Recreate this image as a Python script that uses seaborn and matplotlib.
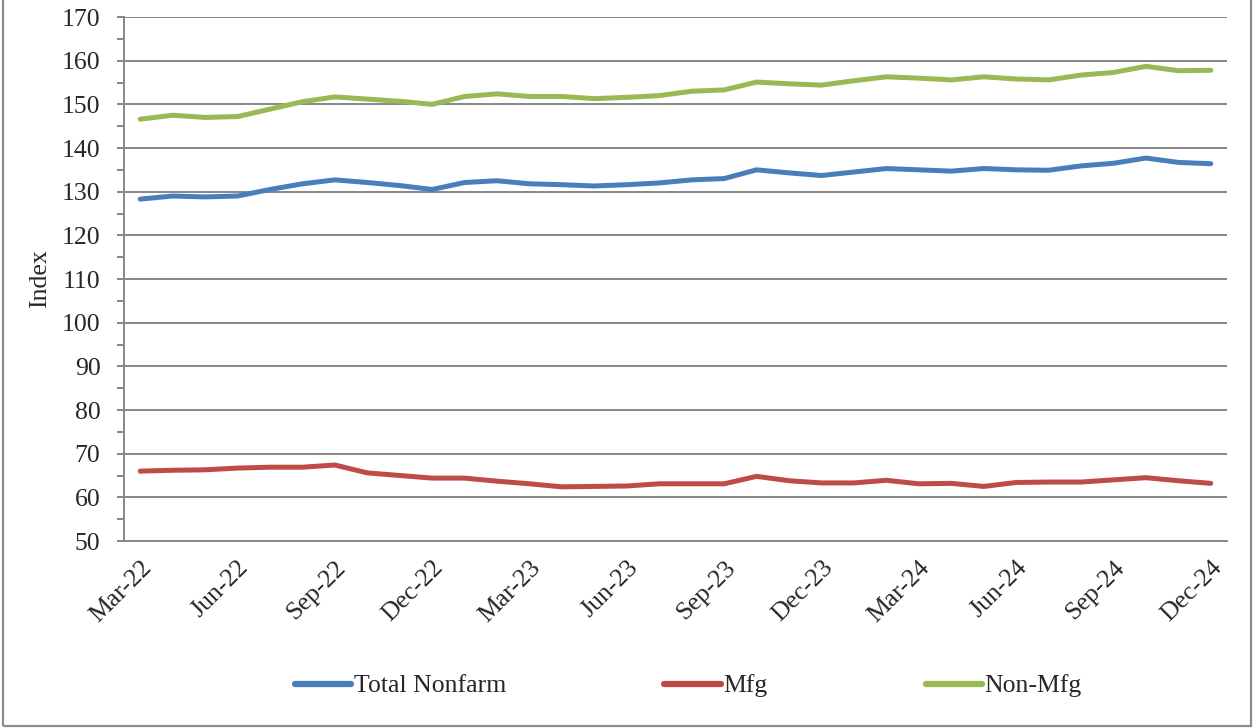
import numpy as np
import pandas as pd
import matplotlib
matplotlib.use("Agg")
import matplotlib.pyplot as plt
import seaborn as sns
from matplotlib.lines import Line2D

months = pd.date_range("2022-03-01", "2024-12-01", freq="MS")
month_labels = [d.strftime("%b-%y") for d in months]

total_nonfarm = [128.3, 129.0, 128.8, 129.0, 130.5, 131.8, 132.7, 132.1, 131.4, 130.5,
                 132.1, 132.5, 131.8, 131.6, 131.3, 131.6, 132.0, 132.7, 133.0, 135.0,
                 134.3, 133.7, 134.5, 135.3, 135.0, 134.7, 135.3, 135.0, 134.9, 135.9,
                 136.5, 137.7, 136.7, 136.4]
mfg = [66.0, 66.2, 66.3, 66.7, 66.9, 66.9, 67.4, 65.6, 65.0, 64.4,
       64.4, 63.7, 63.1, 62.4, 62.5, 62.6, 63.1, 63.1, 63.1, 64.8,
       63.8, 63.3, 63.3, 63.9, 63.1, 63.2, 62.5, 63.4, 63.5, 63.5,
       64.0, 64.5, 63.8, 63.2]
non_mfg = [146.6, 147.5, 147.0, 147.2, 148.9, 150.6, 151.7, 151.2, 150.7, 150.0,
           151.8, 152.4, 151.8, 151.8, 151.3, 151.6, 152.0, 153.0, 153.3, 155.1,
           154.7, 154.4, 155.4, 156.3, 156.0, 155.6, 156.3, 155.8, 155.6, 156.7,
           157.3, 158.7, 157.7, 157.8]

series_names = ["Total Nonfarm", "Mfg", "Non-Mfg"]
colors = ["#4A7EBB", "#BE4B48", "#98B954"]

df = pd.DataFrame({
    "idx": list(range(len(months))) * 3,
    "value": total_nonfarm + mfg + non_mfg,
    "series": sum([[n] * len(months) for n in series_names], []),
})

sns.set_style("white")
plt.rcParams["font.family"] = ["Liberation Serif", "DejaVu Serif"]
plt.rcParams["font.size"] = 18.5
FS = 18.5

fig = plt.figure(figsize=(12.54, 7.28), dpi=100)
ax = fig.add_axes([124 / 1254, 1 - 541 / 728, (1227 - 124) / 1254, (541 - 17) / 728])

sns.lineplot(data=df, x="idx", y="value", hue="series", hue_order=series_names,
             palette=colors, linewidth=3.6, ax=ax, legend=False,
             solid_capstyle="round", solid_joinstyle="round")

grid_c = "#878787"
ax.set_xlim(-0.5, len(months) - 0.5)
ax.set_ylim(50, 170)
ax.set_yticks(np.arange(50, 171, 10))
ax.set_yticks(np.arange(55, 170, 10), minor=True)
ax.yaxis.grid(True, which="major", color=grid_c, linewidth=1.4)
ax.set_axisbelow(True)

label_pos = list(range(0, len(months), 3))
ax.set_xticks(label_pos)
ax.set_xticklabels([month_labels[i] for i in label_pos], rotation=45, ha="right",
                   rotation_mode="anchor")
ax.set_xticks(np.arange(-0.5, len(months), 1), minor=True)
ax.tick_params(axis="x", which="major", length=0, pad=11, labelsize=FS)
ax.tick_params(axis="x", which="minor", length=5, width=1.4, color=grid_c, direction="out")
ax.tick_params(axis="y", which="both", length=5, width=1.4, color=grid_c, direction="out",
               pad=12, labelsize=FS, left=True)
ax.set_xlabel("")
ax.set_ylabel("Index", fontsize=FS, labelpad=8)

for s in ["top", "right"]:
    ax.spines[s].set_visible(False)
for s in ["left", "bottom"]:
    ax.spines[s].set_color(grid_c)
    ax.spines[s].set_linewidth(1.4)

handles = [Line2D([0], [0], color=c, linewidth=4.5, solid_capstyle="round") for c in colors]
fig.legend(handles, series_names, loc="center", bbox_to_anchor=(0.549, 1 - 686 / 728),
           ncol=3, frameon=False, fontsize=FS, handlelength=2.2, handletextpad=0.1,
           columnspacing=6.15)

# chart-area border
border = plt.Rectangle((0.002, 0.003), 0.996, 1.2, transform=fig.transFigure,
                       fill=False, edgecolor="#8C8C8C", linewidth=1.6)
fig.add_artist(border)

fig.savefig("out.png", dpi=100)
